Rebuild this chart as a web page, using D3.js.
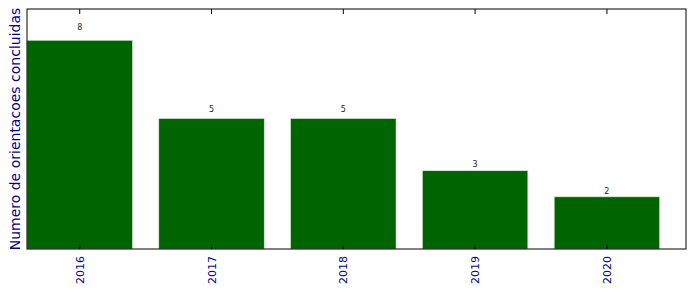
<!DOCTYPE html>
<html>
<head>
<meta charset="utf-8">
<script src="https://cdn.jsdelivr.net/npm/d3@7"></script>
<style>
  body { margin: 0; background: #fff; }
  text { font-family: "DejaVu Sans", sans-serif; }
</style>
</head>
<body>
<div id="chart"></div>
<script>
// chart data
const years = ["2016", "2017", "2018", "2019", "2020"];
const counts = [8, 5, 5, 3, 2];

const width = 696;
const height = 292;
const margin = { top: 9, right: 10, bottom: 43, left: 27 };
const innerW = width - margin.left - margin.right;
const innerH = height - margin.top - margin.bottom;

const svg = d3.select("#chart")
    .append("svg")
    .attr("width", width)
    .attr("height", height);

const g = svg.append("g")
    .attr("transform", `translate(${margin.left},${margin.top})`);

// x: index domain, bars 0.8 wide, leftmost bar flush with frame
const x = d3.scaleLinear()
    .domain([-0.4, years.length - 0.4])
    .range([0, innerW]);

const y = d3.scaleLinear()
    .domain([0, d3.max(counts) * 1.15])
    .range([innerH, 0]);

g.selectAll("rect.bar")
    .data(counts)
    .enter()
    .append("rect")
    .attr("class", "bar")
    .attr("x", (d, i) => x(i - 0.4))
    .attr("width", x(0.8) - x(0))
    .attr("y", d => y(d))
    .attr("height", d => innerH - y(d))
    .attr("fill", "#006400")
    .attr("stroke", "#d8e8d8")
    .attr("stroke-width", 0.6);

// value labels
g.selectAll("text.val")
    .data(counts)
    .enter()
    .append("text")
    .attr("class", "val")
    .attr("x", (d, i) => x(i))
    .attr("y", d => y(d * 1.05))
    .attr("text-anchor", "middle")
    .attr("font-size", 8)
    .attr("fill", "#222")
    .text(d => d);

// ticks top and bottom, inward
const idx = d3.range(years.length);
g.selectAll("line.tickb")
    .data(idx)
    .enter()
    .append("line")
    .attr("x1", i => x(i)).attr("x2", i => x(i))
    .attr("y1", innerH).attr("y2", innerH - 5)
    .attr("stroke", "#000");
g.selectAll("line.tickt")
    .data(idx)
    .enter()
    .append("line")
    .attr("x1", i => x(i)).attr("x2", i => x(i))
    .attr("y1", 0).attr("y2", 5)
    .attr("stroke", "#000");

// frame
g.append("rect")
    .attr("width", innerW)
    .attr("height", innerH)
    .attr("fill", "none")
    .attr("stroke", "#000")
    .attr("stroke-width", 1);

// x tick labels rotated
g.selectAll("text.xlab")
    .data(years)
    .enter()
    .append("text")
    .attr("class", "xlab")
    .attr("transform", (d, i) => `translate(${x(i) + 4},${innerH + 7}) rotate(-90)`)
    .attr("text-anchor", "end")
    .attr("font-size", 11)
    .attr("fill", "#00008b")
    .text(d => d);

// y label
svg.append("text")
    .attr("transform", `translate(20,${margin.top + innerH / 2}) rotate(-90)`)
    .attr("text-anchor", "middle")
    .attr("font-size", 14)
    .attr("fill", "#00008b")
    .text("Numero de orientacoes concluidas");
</script>
</body>
</html>
